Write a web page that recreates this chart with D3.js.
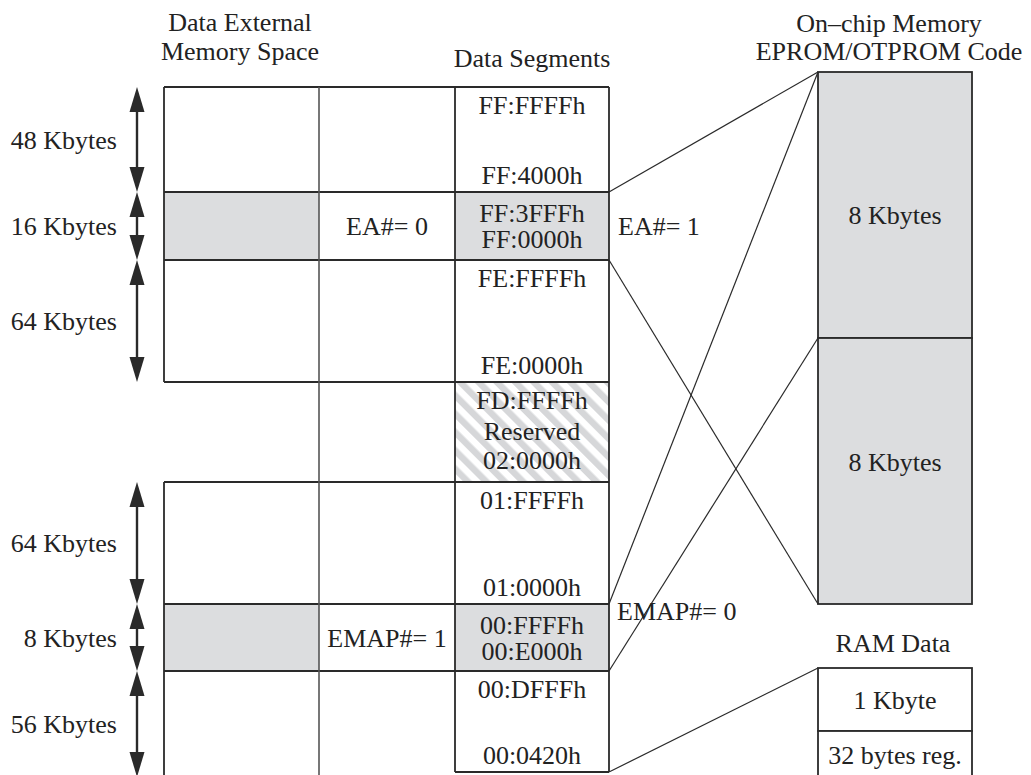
<!DOCTYPE html>
<html>
<head>
<meta charset="utf-8">
<script src="https://cdn.jsdelivr.net/npm/d3@7"></script>
<style>
  body { margin: 0; background: #fff; }
  text { font-family: "Liberation Serif", "Times New Roman", serif; font-size: 26px; fill: #222; }
</style>
</head>
<body>
<div id="map"></div>
<script>
// data segment rows, top to bottom
const rowSizes = ["48 Kbytes", "16 Kbytes", "64 Kbytes", "", "64 Kbytes", "8 Kbytes", "56 Kbytes"]
const rowHigh = ["FF:FFFFh", "FF:3FFFh", "FE:FFFFh", "FD:FFFFh", "01:FFFFh", "00:FFFFh", "00:DFFFh"]
const rowLow = ["FF:4000h", "FF:0000h", "FE:0000h", "02:0000h", "01:0000h", "00:E000h", "00:0420h"]
const rowKind = ["ext", "chip", "ext", "reserved", "ext", "chip", "ext"]
const rowSwitch = ["", "EA#= 0", "", "", "", "EMAP#= 1", ""]
// relative drawn heights of the rows
const rowWeight = [105, 68, 122, 100, 122, 67, 106]

// on-chip code memory and RAM blocks
const codeBlocks = ["8 Kbytes", "8 Kbytes"]
const codeWeight = [266, 266]
const ramBlocks = ["1 Kbyte", "32 bytes reg."]
const ramWeight = [63, 63]

// mapping lines: row edge -> block edge
const links = [
    { row: 1, edge: "top", target: "code", at: 0 },
    { row: 1, edge: "bottom", target: "code", at: 2 },
    { row: 5, edge: "top", target: "code", at: 0 },
    { row: 5, edge: "bottom", target: "code", at: 1 },
    { row: 6, edge: "bottom", target: "ram", at: 0 }
]

const width = 1031, height = 775
const colX = [164, 319, 455, 609]
const boxX = [818, 972]
const shade = "#dcdddf"
const ink = "#2a2a2a"

const svg = d3.select("#map")
    .append("svg")
    .attr("width", width)
    .attr("height", height)

// hatch for reserved area
const pat = svg.append("defs").append("pattern")
    .attr("id", "hatch")
    .attr("patternUnits", "userSpaceOnUse")
    .attr("width", 13)
    .attr("height", 13)
    .attr("patternTransform", "rotate(-45)")
pat.append("rect").attr("width", 13).attr("height", 13).attr("fill", "#fff")
pat.append("rect").attr("width", 6.5).attr("height", 13).attr("fill", "#d6d7d9")

// cumulative edges -> scales
const edges = d3.cumsum([0].concat(rowWeight))
const y = d3.scaleLinear().domain([0, d3.sum(rowWeight)]).range([87, 87 + d3.sum(rowWeight)])
const rows = rowWeight.map((w, i) => ({
    i, top: y(edges[i]), bottom: y(edges[i + 1]),
    size: rowSizes[i], high: rowHigh[i], low: rowLow[i], kind: rowKind[i], sw: rowSwitch[i]
}))
const segBottom = rows[6].bottom - 5

const codeEdges = d3.cumsum([0].concat(codeWeight))
const yCode = d3.scaleLinear().domain([0, d3.sum(codeWeight)]).range([72, 72 + d3.sum(codeWeight)])
const ramEdges = d3.cumsum([0].concat(ramWeight))
const yRam = d3.scaleLinear().domain([0, d3.sum(ramWeight)]).range([668, 668 + d3.sum(ramWeight)])

// headers
function lines(x, ys, strs, anchor) {
    strs.forEach((s, k) => {
        svg.append("text").attr("x", x).attr("y", ys[k])
            .attr("text-anchor", anchor || "middle").text(s)
    })
}
lines(240, [31, 60], ["Data External", "Memory Space"])
lines(532, [67], ["Data Segments"])
lines(889, [32, 60], ["On\u2013chip Memory", "EPROM/OTPROM Code"])
lines(893, [652], ["RAM Data"])

// fills
rows.forEach(r => {
    if (r.kind === "chip") {
        svg.append("rect").attr("x", colX[0]).attr("y", r.top).attr("width", colX[1] - colX[0])
            .attr("height", r.bottom - r.top).attr("fill", shade)
        svg.append("rect").attr("x", colX[2]).attr("y", r.top).attr("width", colX[3] - colX[2])
            .attr("height", r.bottom - r.top).attr("fill", shade)
    }
    if (r.kind === "reserved") {
        svg.append("rect").attr("x", colX[2]).attr("y", r.top).attr("width", colX[3] - colX[2])
            .attr("height", r.bottom - r.top).attr("fill", "url(#hatch)")
    }
})

// grid lines
const g = svg.append("g").attr("stroke", ink).attr("stroke-width", 1.8).attr("fill", "none")
rows.forEach(r => {
    // horizontal at row top
    g.append("line").attr("x1", colX[0]).attr("x2", colX[3]).attr("y1", r.top).attr("y2", r.top)
    // outer verticals (left column skips the reserved row)
    if (r.kind !== "reserved") {
        g.append("line").attr("x1", colX[0]).attr("x2", colX[0]).attr("y1", r.top).attr("y2", r.bottom)
    }
    const b = r.i === 6 ? segBottom : r.bottom
    g.append("line").attr("x1", colX[2]).attr("x2", colX[2]).attr("y1", r.top).attr("y2", b)
    g.append("line").attr("x1", colX[3]).attr("x2", colX[3]).attr("y1", r.top).attr("y2", b)
})
g.append("line").attr("x1", colX[1]).attr("x2", colX[1]).attr("y1", rows[0].top).attr("y2", height)
    .attr("stroke", "#555").attr("stroke-width", 1.6)
g.append("line").attr("x1", colX[2]).attr("x2", colX[3]).attr("y1", segBottom).attr("y2", segBottom)

// on-chip code blocks
codeBlocks.forEach((label, i) => {
    const t = yCode(codeEdges[i]), b = yCode(codeEdges[i + 1])
    svg.append("rect").attr("x", boxX[0]).attr("y", t).attr("width", boxX[1] - boxX[0])
        .attr("height", b - t).attr("fill", shade).attr("stroke", ink).attr("stroke-width", 1.8)
    svg.append("text").attr("x", (boxX[0] + boxX[1]) / 2).attr("y", (t + b) / 2 + (i === 0 ? 10 : -9))
        .attr("dy", "0.35em").attr("text-anchor", "middle").text(label)
})

// RAM blocks
ramBlocks.forEach((label, i) => {
    const t = yRam(ramEdges[i]), b = yRam(ramEdges[i + 1])
    svg.append("rect").attr("x", boxX[0]).attr("y", t).attr("width", boxX[1] - boxX[0])
        .attr("height", b - t).attr("fill", "#fff").attr("stroke", ink).attr("stroke-width", 1.8)
    svg.append("text").attr("x", (boxX[0] + boxX[1]) / 2).attr("y", Math.min((t + b) / 2, 755))
        .attr("dy", "0.35em").attr("text-anchor", "middle").text(label)
})

// mapping lines
links.forEach(l => {
    const r = rows[l.row]
    const y1 = l.edge === "top" ? r.top : (l.row === 6 ? segBottom : r.bottom)
    const y2 = l.target === "code" ? yCode(codeEdges[l.at]) : yRam(ramEdges[l.at])
    svg.append("line").attr("x1", colX[3]).attr("y1", y1).attr("x2", boxX[0]).attr("y2", y2)
        .attr("stroke", ink).attr("stroke-width", 1.2)
})

// size arrows on the left
const ax = 137, headLen = 25, headW = 7.5
rows.filter(r => r.size !== "").forEach(r => {
    const t = r.top, b = r.bottom
    svg.append("line").attr("x1", ax).attr("x2", ax).attr("y1", t + headLen - 2).attr("y2", b - headLen + 2)
        .attr("stroke", ink).attr("stroke-width", 2.4)
    svg.append("path").attr("fill", ink)
        .attr("d", `M${ax},${t} L${ax + headW},${t + headLen} L${ax - headW},${t + headLen} Z`)
    svg.append("path").attr("fill", ink)
        .attr("d", `M${ax},${b} L${ax + headW},${b - headLen} L${ax - headW},${b - headLen} Z`)
    svg.append("text").attr("x", 117).attr("y", (t + b) / 2).attr("dy", "0.35em")
        .attr("text-anchor", "end").text(r.size)
})

// address labels in the data segments column
const cx = (colX[2] + colX[3]) / 2
rows.forEach(r => {
    const c = (r.top + r.bottom) / 2
    if (r.kind === "chip") {
        lines(cx, [c - 4, c + 22], [r.high, r.low])
    } else if (r.kind === "reserved") {
        lines(cx, [c - 23, c + 8, c + 37], [r.high, "Reserved", r.low])
    } else {
        const b = r.i === 6 ? segBottom : r.bottom
        lines(cx, [r.top + 27, b - 8], [r.high, r.low])
    }
    if (r.sw) {
        svg.append("text").attr("x", (colX[1] + colX[2]) / 2).attr("y", c).attr("dy", "0.35em")
            .attr("text-anchor", "middle").text(r.sw)
    }
})

// switch labels next to the mapping lines
svg.append("text").attr("x", 618).attr("y", (rows[1].top + rows[1].bottom) / 2).attr("dy", "0.35em").text("EA#= 1")
svg.append("text").attr("x", 617).attr("y", rows[5].top + 7).attr("dy", "0.35em").text("EMAP#= 0")
</script>
</body>
</html>
